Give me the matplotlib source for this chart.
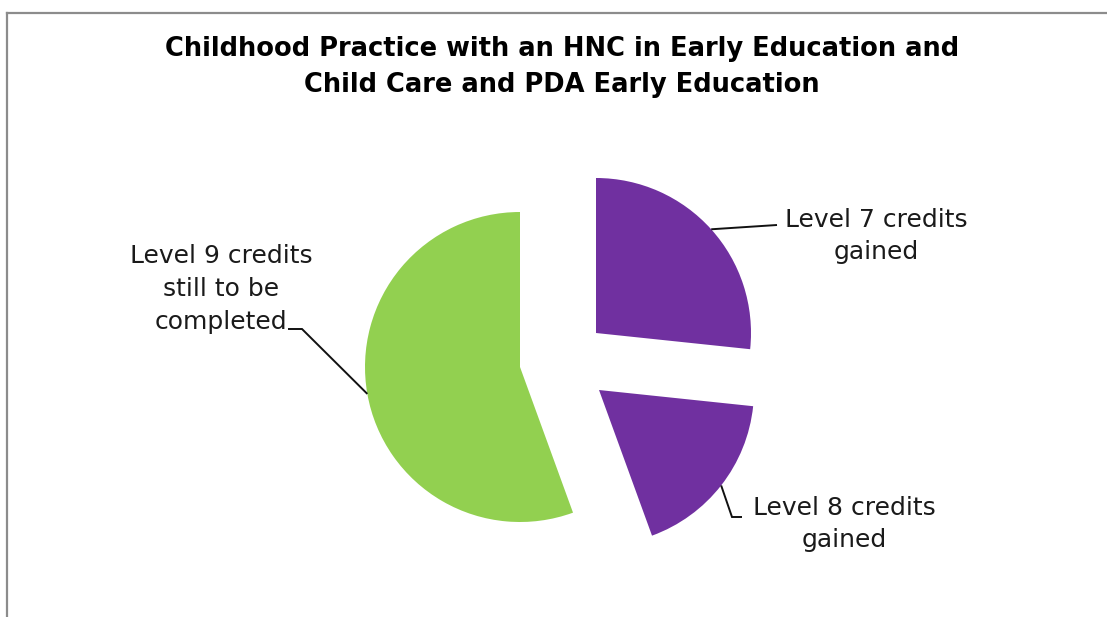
import numpy as np
import matplotlib
matplotlib.use("Agg")
import matplotlib.pyplot as plt
from matplotlib.lines import Line2D

# ---- data ----
categories = ["Level 7 credits\ngained", "Level 8 credits\ngained",
              "Level 9 credits\nstill to be\ncompleted"]
credits = [96, 64, 200]
colors = ["#7030A0", "#7030A0", "#92D050"]
title = ("Childhood Practice with an HNC in Early Education and\n"
         "Child Care and PDA Early Education")

# ---- layout (pixels) ----
W, H = 1107, 617
R_PX = 155.0
CX, CY = 520.0, 367.0          # pie centre in image pixels (from top-left)

def P(x, y):
    """image pixel -> data coordinates (radius = 1)"""
    return ((x - CX) / R_PX, (CY - y) / R_PX)

fig = plt.figure(figsize=(W / 100, H / 100), dpi=100)
fig.patch.set_facecolor("white")
ax = fig.add_axes([0, 0, 1, 1])

wedges, _ = ax.pie(credits, colors=colors, startangle=90, counterclock=False,
                   radius=1, wedgeprops=dict(linewidth=0))

# explosion offsets (data units) for the two purple slices
shifts = [(76 / R_PX, 34 / R_PX), (79 / R_PX, -23 / R_PX), (0.0, 0.0)]
for w, s in zip(wedges, shifts):
    w.set_center(s)

ax.set_xlim(-CX / R_PX, (W - CX) / R_PX)
ax.set_ylim(-(H - CY) / R_PX, CY / R_PX)
ax.set_axis_off()

# anchor points at mid-angle of each wedge
anchors = []
for w in wedges:
    mid = np.deg2rad((w.theta1 + w.theta2) / 2)
    cx, cy = w.center
    anchors.append((cx + w.r * np.cos(mid), cy + w.r * np.sin(mid)))

lkw = dict(color="#111111", lw=1.4, solid_capstyle="butt", solid_joinstyle="miter")
# Level 7
a = anchors[0]; e = P(777, 225)
ax.plot([a[0], e[0]], [a[1], e[1]], **lkw)
# Level 8
a = anchors[1]; e1 = P(732, 517); e2 = P(742, 517)
ax.plot([a[0], e1[0], e2[0]], [a[1], e1[1], e2[1]], **lkw)
# Level 9
a = anchors[2]; e1 = P(302, 329); e2 = P(288, 329)
ax.plot([a[0], e1[0], e2[0]], [a[1], e1[1], e2[1]], **lkw)

tkw = dict(ha="center", va="center", fontsize=18, color="#1a1a1a",
           family="DejaVu Sans", linespacing=1.46)
ax.text(*P(876, 236), categories[0], **tkw)
ax.text(*P(844, 524), categories[1], **tkw)
ax.text(*P(221, 289), categories[2], **tkw)

fig.text(562 / W, 1 - 67 / H, title, ha="center", va="center", fontsize=18.5,
         fontweight="bold", family="DejaVu Sans", linespacing=1.49, color="black")

# chart border (partially cropped)
bc = "#8c8c8c"
fig.add_artist(Line2D([7 / W, 1], [1 - 13 / H, 1 - 13 / H], color=bc, lw=1.6,
                      transform=fig.transFigure))
fig.add_artist(Line2D([7 / W, 7 / W], [0, 1 - 13 / H], color=bc, lw=1.6,
                      transform=fig.transFigure))

fig.savefig("out.png", dpi=100, facecolor="white")
